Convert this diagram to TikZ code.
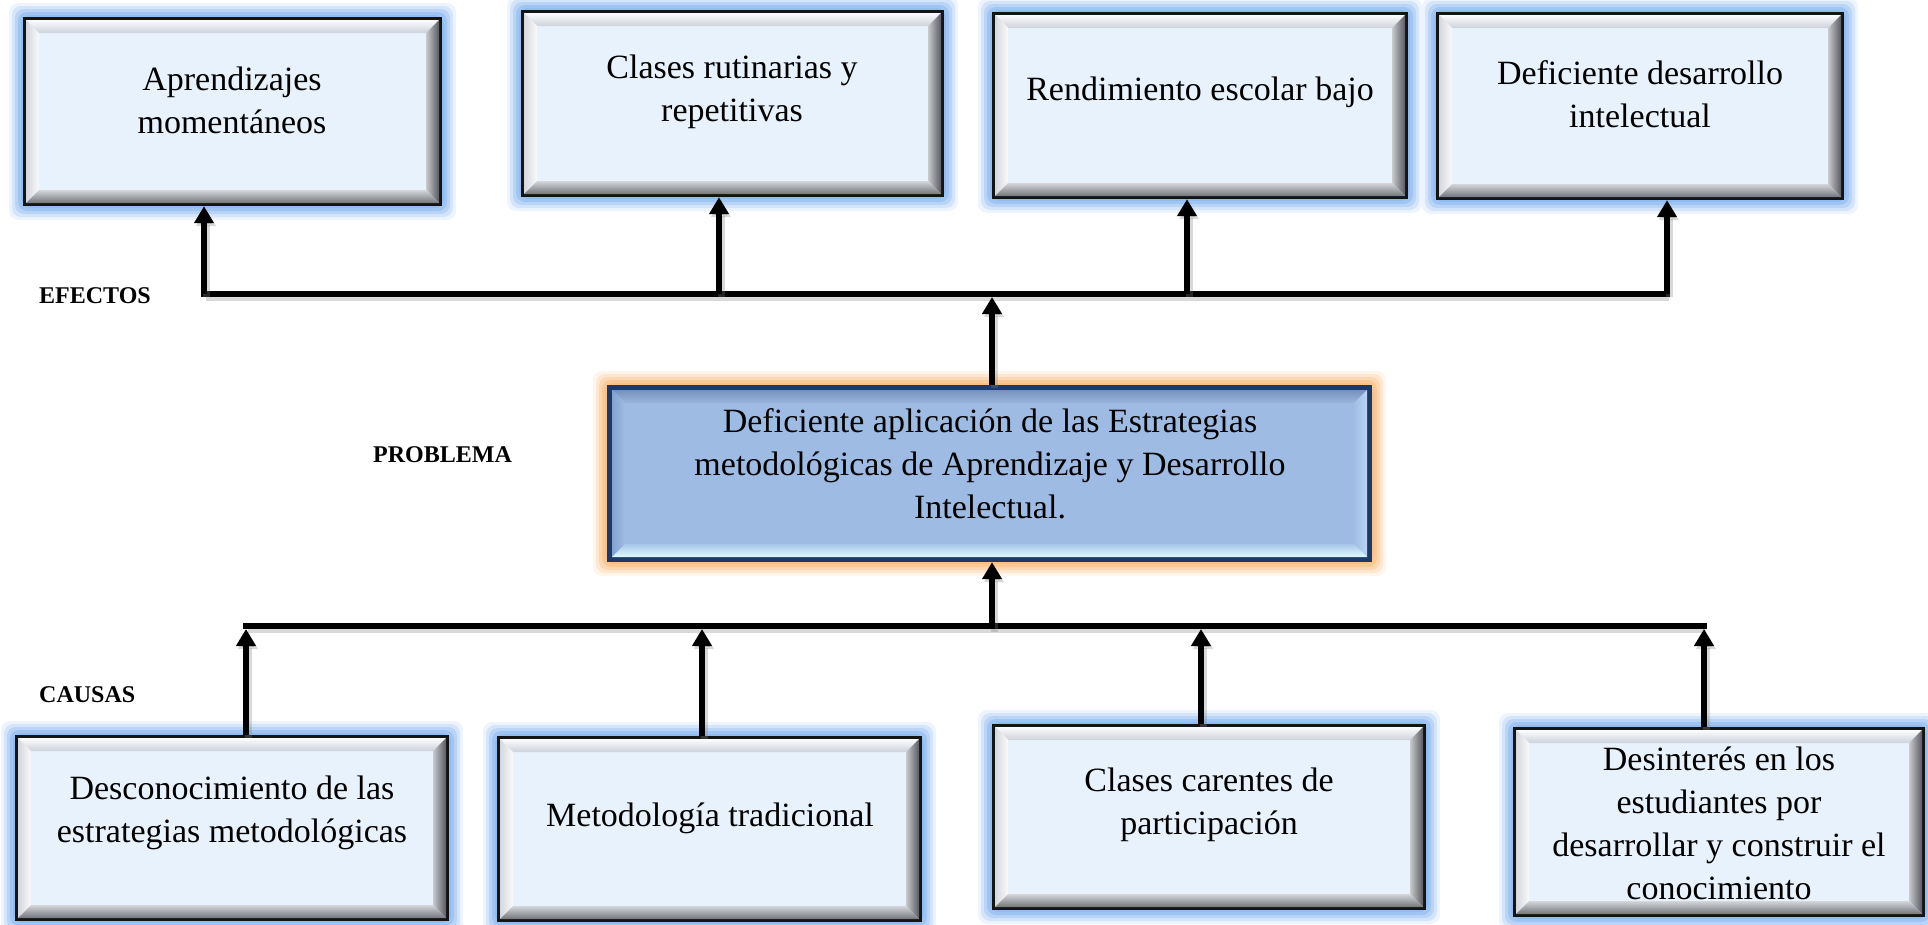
\documentclass[tikz,border=0pt]{standalone}
\usepackage{fontspec}
\setmainfont{Liberation Serif}
\usetikzlibrary{arrows.meta}
\definecolor{Aglow}{RGB}{140,185,240}
\definecolor{Abd}{RGB}{20,20,20}
\definecolor{Ain}{RGB}{232,242,253}
\definecolor{At1}{RGB}{252,252,253}
\definecolor{At2}{RGB}{205,210,218}
\definecolor{Al1}{RGB}{212,215,220}
\definecolor{Al2}{RGB}{250,250,250}
\definecolor{Ar1}{RGB}{90,90,96}
\definecolor{Ar2}{RGB}{200,202,206}
\definecolor{Ab1}{RGB}{115,118,124}
\definecolor{Ab2}{RGB}{212,214,218}
\definecolor{Pglow}{RGB}{249,190,130}
\definecolor{Pbd}{RGB}{28,58,105}
\definecolor{Pin}{RGB}{158,188,227}
\definecolor{Pt1}{RGB}{118,146,188}
\definecolor{Pt2}{RGB}{155,182,220}
\definecolor{Pl1}{RGB}{132,162,208}
\definecolor{Pl2}{RGB}{158,188,227}
\definecolor{Pr1}{RGB}{188,212,242}
\definecolor{Pr2}{RGB}{160,190,228}
\definecolor{Pb1}{RGB}{222,250,255}
\definecolor{Pb2}{RGB}{168,198,234}
% #1 name, #2 x1, #3 y1, #4 x2, #5 y2, #6 colour set, #7 border width
\newcommand\bevbox[7]{%
  \foreach \k/\o in {14/0.16,11/0.26,8/0.38,5/0.55,2/0.75}{%
    \fill[#6glow,opacity=\o,rounded corners=9pt] ({#2-\k},{#3-\k}) rectangle ({#4+\k},{#5+\k});}
  \fill[#6bd] (#2,#3) rectangle (#4,#5);
  \fill[#6in] ({#2+#7},{#3+#7}) rectangle ({#4-#7},{#5-#7});
  \shade[top color=#6t1,bottom color=#6t2] ({#2+#7},{#3+#7}) -- ({#4-#7},{#3+#7}) -- ({#4-#7-13},{#3+#7+13}) -- ({#2+#7+13},{#3+#7+13}) -- cycle;
  \shade[left color=#6l1,right color=#6l2] ({#2+#7},{#3+#7}) -- ({#2+#7+13},{#3+#7+13}) -- ({#2+#7+13},{#5-#7-13}) -- ({#2+#7},{#5-#7}) -- cycle;
  \shade[left color=#6r2,right color=#6r1] ({#4-#7},{#3+#7}) -- ({#4-#7},{#5-#7}) -- ({#4-#7-13},{#5-#7-13}) -- ({#4-#7-13},{#3+#7+13}) -- cycle;
  \shade[top color=#6b2,bottom color=#6b1] ({#2+#7},{#5-#7}) -- ({#4-#7},{#5-#7}) -- ({#4-#7-13},{#5-#7-13}) -- ({#2+#7+13},{#5-#7-13}) -- cycle;
  \node[inner sep=0pt,minimum width={#4-#2},minimum height={#5-#3}] (#1) at ({(#2+#4)/2},{(#3+#5)/2}) {};
}
\tikzset{
  x=1pt,y=-1pt,
  txt/.style={align=center,inner sep=0pt,font=\fontsize{34}{43}\selectfont},
  lbl/.style={anchor=west,inner sep=0pt,font=\fontsize{24}{28}\selectfont\bfseries},
  lnk/.style={line width=6pt,black,
    preaction={draw=gray,opacity=0.3,line width=7pt,transform canvas={shift={(2,3)}}}},
  conn/.style={lnk,-{Triangle[width=19pt,length=17pt]}},
}
\begin{document}
\begin{tikzpicture}
\useasboundingbox (0,0) rectangle (1928,924);
% effects
\bevbox{T1}{23}{17}{442}{206}{A}{3}
\bevbox{T2}{521}{10}{944}{197}{A}{3}
\bevbox{T3}{992}{12}{1408}{199}{A}{3}
\bevbox{T4}{1436}{12}{1844}{200}{A}{3}
% problem
\bevbox{P}{607}{385}{1372}{562}{P}{5}
% causes
\bevbox{B1}{15}{735}{449}{921}{A}{3}
\bevbox{B2}{497}{736}{922}{922}{A}{3}
\bevbox{B3}{992}{724}{1426}{910}{A}{3}
\bevbox{B4}{1513}{727}{1925}{917}{A}{3}

\node[txt] (T1x) at (232,100) {Aprendizajes\\momentáneos};
\node[txt] (T2x) at (732,92) {Clases rutinarias y\\repetitivas};
\node[txt] (T3x) at (1200,92) {Rendimiento escolar bajo};
\node[txt] (T4x) at (1640,94) {Deficiente desarrollo\\intelectual};
\node[txt] (Px) at (990,464) {Deficiente aplicación de las Estrategias\\metodológicas de Aprendizaje y Desarrollo\\Intelectual.};
\node[txt] (B1x) at (232,813) {Desconocimiento de las\\estrategias metodológicas};
\node[txt] (B2x) at (710,818) {Metodología tradicional};
\node[txt] (B3x) at (1209,805) {Clases carentes de\\participación};
\node[txt] (B4x) at (1719,823) {Desinterés en los\\estudiantes por\\desarrollar y construir el\\conocimiento};

\node[lbl] (ef) at (39,296) {EFECTOS};
\node[lbl] (pr) at (373,455) {PROBLEMA};
\node[lbl] (ca) at (39,695) {CAUSAS};

% top connectors
\coordinate (h1) at (204,294);
\coordinate (h2) at (719,294);
\coordinate (h3) at (1187,294);
\coordinate (h4) at (1667,294);
\coordinate (hc) at (992,294);
\draw[lnk,line cap=rect] (h1) -- (h4);
\draw[conn] (h1) -- (h1 |- T1.south);
\draw[conn] (h2) -- (h2 |- T2.south);
\draw[conn] (h3) -- (h3 |- T3.south);
\draw[conn] (h4) -- (h4 |- T4.south);
\draw[conn,shorten >=3pt] (hc |- P.north) -- (hc);

% bottom connectors
\coordinate (g1) at (246,626);
\coordinate (g2) at (702,626);
\coordinate (g3) at (1201,626);
\coordinate (g4) at (1704,626);
\coordinate (gc) at (992,626);
\draw[lnk,line cap=rect] (g1) -- (g4);
\draw[conn,shorten >=3pt] (g1 |- B1.north) -- (g1);
\draw[conn,shorten >=3pt] (g2 |- B2.north) -- (g2);
\draw[conn,shorten >=3pt] (g3 |- B3.north) -- (g3);
\draw[conn,shorten >=3pt] (g4 |- B4.north) -- (g4);
\draw[conn] ([yshift=-3pt]gc) -- (gc |- P.south);
\end{tikzpicture}
\end{document}
